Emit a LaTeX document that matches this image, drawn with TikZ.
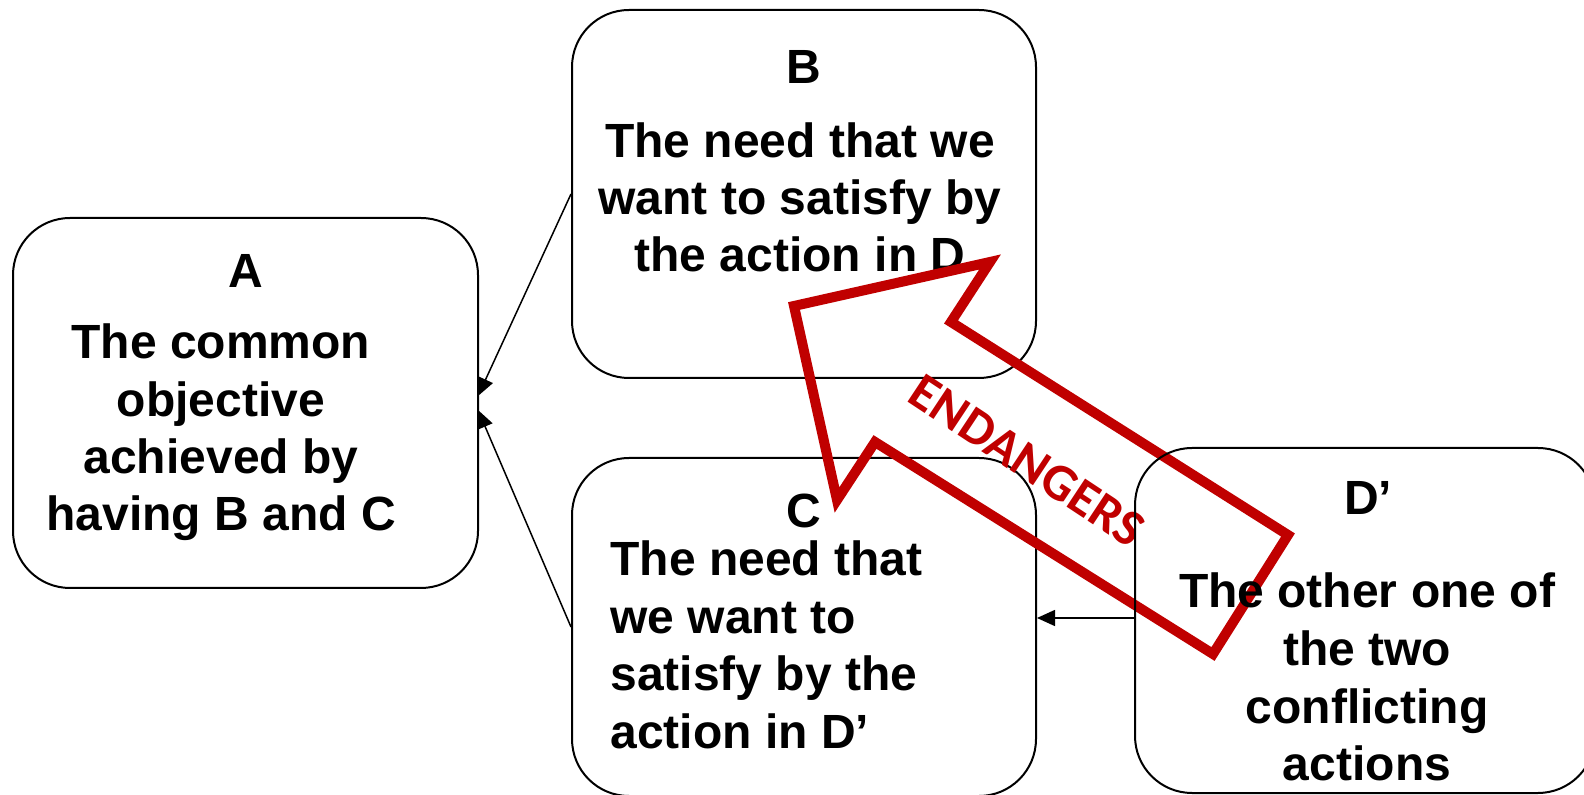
\documentclass[tikz,border=0pt]{standalone}
\usepackage{fontspec}
\setmainfont{Liberation Sans}
\newfontfamily\carl{Carlito}
\usetikzlibrary{arrows.meta}
\definecolor{endred}{HTML}{C00000}
\tikzset{
  box/.style={draw=black, line width=1pt, rounded corners=28.5pt, inner sep=0pt},
  txt/.style={font=\fontsize{24}{28.8}\selectfont\bfseries, anchor=base, inner sep=0pt},
  txtl/.style={txt, anchor=base west},
  conn/.style={line width=0.75pt, -{Triangle[length=9pt,width=8pt]}},
  endarrow/.style={draw=endred, line width=5pt, miter limit=20}
}
\begin{document}
\begin{tikzpicture}[x=0.5pt,y=-0.5pt]
\useasboundingbox (0,0) rectangle (1584,795);
% boxes
\node[box, minimum width=232.5pt, minimum height=185pt] (A) at (245.5,403) {};
\node[box, minimum width=232pt, minimum height=184pt] (B) at (804,194) {};
\node[box, minimum width=232pt, minimum height=169pt] (C) at (804,627) {};
% texts A
\node[txt] (aL) at (245.5,288) {A};
\node[txt] (a1) at (221,359) {The common};
\node[txt] (a2) at (221,416.3) {objective};
\node[txt] (a3) at (221,473.6) {achieved by};
\node[txt] (a4) at (221,531) {having B and C};
% texts B
\node[txt] (bL) at (804,84) {B};
\node[txt] (b1) at (800,158) {The need that we};
\node[txt] (b2) at (800,215) {want to satisfy by};
\node[txt] (b3) at (800,272) {the action in D};
% texts C
\node[txt] (cL) at (804,528) {C};
\node[txtl] (c1) at (610,576) {The need that};
\node[txtl] (c2) at (610,633.3) {we want to};
\node[txtl] (c3) at (610,690.6) {satisfy by the};
\node[txtl] (c4) at (610,748) {action in D’};
% connectors
\coordinate (t1) at (478,396);
\coordinate (t2) at (478,410);
\draw[conn] (B.west) -- (t1);
\draw[conn] (C.west) -- (t2);
% red arrow
\draw[endarrow] (794,306) -- (990,262) -- (951,322) -- (1288,535) -- (1213,654) -- (875,442) -- (837,500) -- cycle;
\node[text=endred, font=\carl\bfseries\fontsize{26}{30}\selectfont, rotate=-33.5, inner sep=0pt] (endg) at (1027,461) {ENDANGERS};
% D'
\node[box, minimum width=230pt, minimum height=172.5pt] (D) at (1365,620.5) {};
\node[txt] (dL) at (1368,515) {D’};
\node[txt] (d1) at (1367,608) {The other one of};
\node[txt] (d2) at (1367,665.5) {the two};
\node[txt] (d3) at (1367,723) {conflicting};
\node[txt] (d4) at (1367,780) {actions};
\coordinate (dc) at (1135,618);
\draw[conn] (dc) -- (dc -| C.east);
\end{tikzpicture}
\end{document}
